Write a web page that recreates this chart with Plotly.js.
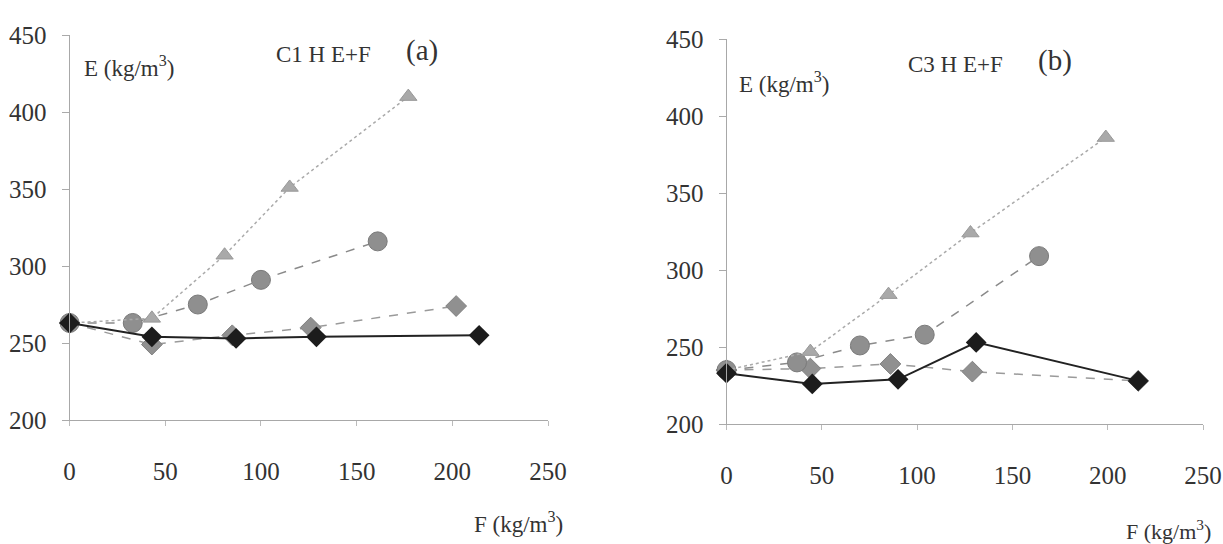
<!DOCTYPE html>
<html>
<head>
<meta charset="utf-8">
<script src="https://cdn.plot.ly/plotly-3.0.1.min.js"></script>
<style>html,body{margin:0;padding:0;background:#fff;}#chart{width:1223px;height:544px;}</style>
</head>
<body>
<div id="chart"></div>
<script>
// Panel (a): C1 H E+F
const a_tri_x = [0, 43, 81, 115, 177];
const a_tri_y = [263, 266, 307, 351, 410];
const a_cir_x = [0, 33, 67, 100, 161];
const a_cir_y = [263, 263, 275, 291, 316];
const a_dia_x = [0, 43, 85, 126, 202];
const a_dia_y = [263, 249, 255, 260, 274];
const a_blk_x = [0, 43, 87, 129, 214];
const a_blk_y = [263, 254, 253, 254, 255];

// Panel (b): C3 H E+F
const b_tri_x = [0, 44, 85, 128, 199];
const b_tri_y = [235, 247, 284, 324, 386];
const b_cir_x = [0, 37, 70, 104, 164];
const b_cir_y = [235, 240, 251, 258, 309];
const b_dia_x = [0, 44, 86, 129, 216];
const b_dia_y = [235, 236, 239, 234, 228];
const b_blk_x = [0, 45, 90, 131, 216];
const b_blk_y = [233, 226, 229, 253, 228];

const xTicks = [0, 50, 100, 150, 200, 250];
const yTicks = [200, 250, 300, 350, 400, 450];

const styles = {
  tri: {marker: {symbol: 'triangle-up', size: 15, color: '#a9a9a9', line: {color: '#999', width: 1}}, line: {color: '#aaaaaa', width: 1.5, dash: 'dot'}},
  cir: {marker: {symbol: 'circle', size: 19, color: '#8f8f8f', line: {color: '#7a7a7a', width: 1}}, line: {color: '#8a8a8a', width: 1.5, dash: 'dash'}},
  dia: {marker: {symbol: 'diamond', size: 16, color: '#909090', line: {color: '#808080', width: 1}}, line: {color: '#9a9a9a', width: 1.5, dash: 'dash'}},
  blk: {marker: {symbol: 'diamond', size: 16, color: '#1c1c1c'}, line: {color: '#222', width: 2}}
};

function tr(x, y, st, xa, ya) {
  return {x: x, y: y, xaxis: xa, yaxis: ya, mode: 'lines+markers', type: 'scatter',
    marker: st.marker, line: st.line, showlegend: false, cliponaxis: false};
}

const data = [
  tr(a_dia_x, a_dia_y, styles.dia, 'x', 'y'),
  tr(a_cir_x, a_cir_y, styles.cir, 'x', 'y'),
  tr(a_tri_x, a_tri_y, styles.tri, 'x', 'y'),
  tr(a_blk_x, a_blk_y, styles.blk, 'x', 'y'),
  tr(b_dia_x, b_dia_y, styles.dia, 'x2', 'y2'),
  tr(b_cir_x, b_cir_y, styles.cir, 'x2', 'y2'),
  tr(b_tri_x, b_tri_y, styles.tri, 'x2', 'y2'),
  tr(b_blk_x, b_blk_y, styles.blk, 'x2', 'y2')
];

const W = 1223, H = 544;
function F(size) { return {family: 'Liberation Serif', size: size, color: '#333'}; }

function xax(l, r) {
  return {domain: [l / W, r / W], range: [0, 250], tickmode: 'array', tickvals: xTicks,
    showgrid: false, zeroline: false, showline: true, linecolor: '#a8a8a8', linewidth: 1,
    ticks: 'outside', ticklen: 5, tickcolor: '#bbb', tickfont: F(25), ticklabelstandoff: 24,
    ticklabeloverflow: 'allow'};
}
function yax(b, t, anchor) {
  return {domain: [1 - b / H, 1 - t / H], range: [200, 450], tickmode: 'array', tickvals: yTicks,
    showgrid: false, zeroline: false, showline: true, linecolor: '#a8a8a8', linewidth: 1,
    ticks: 'outside', ticklen: 7, tickcolor: '#aaa', tickfont: F(25), ticklabelstandoff: 10, anchor: anchor};
}

function ann(text, px, py, size) {
  return {text: text, x: px / W, y: 1 - py / H, xref: 'paper', yref: 'paper', showarrow: false,
    xanchor: 'left', yanchor: 'middle', font: F(size)};
}

const layout = {
  width: W, height: H,
  margin: {l: 0, r: 0, t: 0, b: 0},
  paper_bgcolor: '#fff', plot_bgcolor: '#fff',
  font: F(22),
  xaxis: Object.assign(xax(69.6, 548), {anchor: 'y'}),
  yaxis: yax(420, 35, 'x'),
  xaxis2: Object.assign(xax(726.5, 1203), {anchor: 'y2'}),
  yaxis2: yax(424, 39, 'x2'),
  annotations: [
    ann('E (kg/m<sup>3</sup>)', 82, 66, 23),
    ann('C1 H E+F', 274, 55, 23),
    ann('(a)', 404, 50, 29),
    ann('F (kg/m<sup>3</sup>)', 472, 522, 23),
    ann('E (kg/m<sup>3</sup>)', 737, 82, 23),
    ann('C3 H E+F', 906, 64, 23),
    ann('(b)', 1036, 60, 29),
    ann('F (kg/m<sup>3</sup>)', 1124, 530, 22)
  ]
};

Plotly.newPlot('chart', data, layout, {displayModeBar: false});
</script>
</body>
</html>
